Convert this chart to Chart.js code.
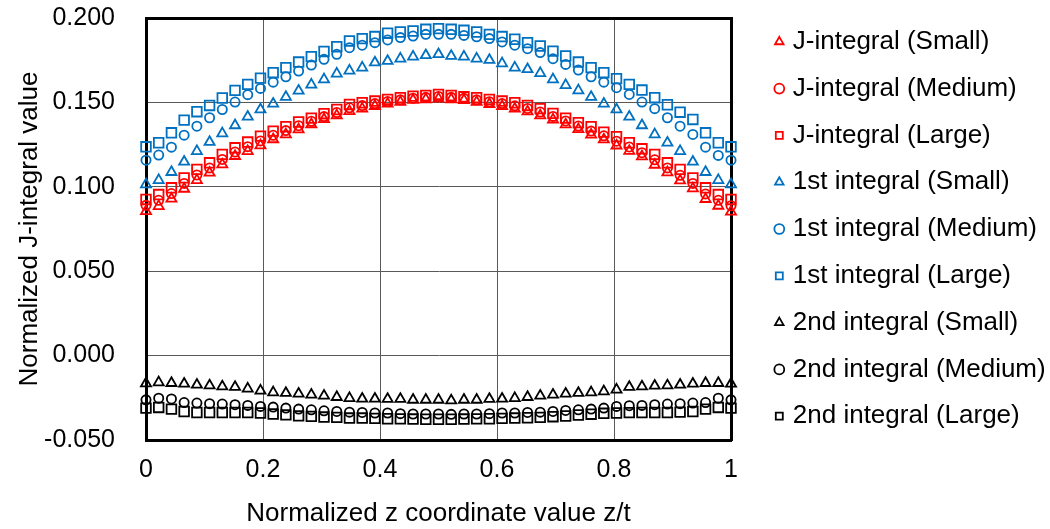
<!DOCTYPE html>
<html>
<head>
<meta charset="utf-8">
<script src="https://cdn.jsdelivr.net/npm/chart.js@4.4.0/dist/chart.umd.min.js"></script>
<style>
  html, body { margin: 0; padding: 0; background: #fff; }
</style>
</head>
<body>
<canvas id="grafico" width="1050" height="529"></canvas>
<script>
// posiciones z/t (47 nodos)
const zValues = [0, 0.0217, 0.0435, 0.0652, 0.0870, 0.1087, 0.1304, 0.1522, 0.1739, 0.1957, 0.2174, 0.2391,
  0.2609, 0.2826, 0.3043, 0.3261, 0.3478, 0.3696, 0.3913, 0.4130, 0.4348, 0.4565, 0.4783, 0.5,
  0.5217, 0.5435, 0.5652, 0.5870, 0.6087, 0.6304, 0.6522, 0.6739, 0.6957, 0.7174, 0.7391, 0.7609,
  0.7826, 0.8043, 0.8261, 0.8478, 0.8696, 0.8913, 0.9130, 0.9348, 0.9565, 0.9783, 1];

const jSmall = [0.0855, 0.0885, 0.0929, 0.0988, 0.1039, 0.1083, 0.1132, 0.1182, 0.1211, 0.1245, 0.1281, 0.1310,
  0.1340, 0.1370, 0.1400, 0.1423, 0.1448, 0.1463, 0.1478, 0.1492, 0.1502, 0.1514, 0.1518, 0.1522,
  0.1518, 0.1513, 0.1502, 0.1490, 0.1477, 0.1462, 0.1446, 0.1422, 0.1398, 0.1369, 0.1341, 0.1309,
  0.1280, 0.1244, 0.1212, 0.1180, 0.1130, 0.1085, 0.1037, 0.0990, 0.0927, 0.0887, 0.0852];
const jMedium = [0.0890, 0.0920, 0.0960, 0.1020, 0.1070, 0.1112, 0.1162, 0.1206, 0.1238, 0.1272, 0.1305, 0.1333,
  0.1362, 0.1388, 0.1416, 0.1440, 0.1468, 0.1481, 0.1493, 0.1505, 0.1515, 0.1525, 0.1530, 0.1535,
  0.1530, 0.1524, 0.1515, 0.1504, 0.1493, 0.1480, 0.1464, 0.1443, 0.1417, 0.1390, 0.1360, 0.1330,
  0.1302, 0.1270, 0.1236, 0.1202, 0.1160, 0.1112, 0.1068, 0.1020, 0.0958, 0.0920, 0.0888];
const jLarge = [0.0925, 0.0954, 0.0994, 0.1053, 0.1103, 0.1142, 0.1192, 0.1231, 0.1265, 0.1300, 0.1330, 0.1356,
  0.1384, 0.1407, 0.1433, 0.1458, 0.1488, 0.1498, 0.1508, 0.1518, 0.1528, 0.1537, 0.1541, 0.1547,
  0.1541, 0.1533, 0.1528, 0.1518, 0.1508, 0.1498, 0.1482, 0.1463, 0.1435, 0.1407, 0.1380, 0.1356,
  0.1324, 0.1297, 0.1261, 0.1225, 0.1192, 0.1142, 0.1103, 0.1053, 0.0994, 0.0954, 0.0925];

const firstSmall = [0.1014, 0.1039, 0.1087, 0.1148, 0.1211, 0.1265, 0.1316, 0.1364, 0.1415, 0.1458, 0.1492, 0.1532,
  0.1569, 0.1605, 0.1636, 0.1670, 0.1688, 0.1706, 0.1736, 0.1745, 0.1759, 0.1771, 0.1779, 0.1785,
  0.1775, 0.1771, 0.1759, 0.1751, 0.1731, 0.1706, 0.1696, 0.1673, 0.1636, 0.1602, 0.1571, 0.1532,
  0.1492, 0.1458, 0.1415, 0.1364, 0.1310, 0.1261, 0.1211, 0.1148, 0.1087, 0.1039, 0.1014];
const firstMedium = [0.1158, 0.1188, 0.1235, 0.1306, 0.1359, 0.1409, 0.1458, 0.1502, 0.1546, 0.1583, 0.1620, 0.1652,
  0.1686, 0.1721, 0.1755, 0.1785, 0.1824, 0.1839, 0.1854, 0.1870, 0.1884, 0.1893, 0.1903, 0.1903,
  0.1903, 0.1897, 0.1889, 0.1878, 0.1858, 0.1839, 0.1818, 0.1795, 0.1759, 0.1725, 0.1692, 0.1652,
  0.1620, 0.1587, 0.1547, 0.1502, 0.1463, 0.1409, 0.1359, 0.1310, 0.1235, 0.1186, 0.1158];
const firstLarge = [0.1237, 0.1261, 0.1320, 0.1395, 0.1445, 0.1482, 0.1526, 0.1571, 0.1607, 0.1644, 0.1676, 0.1706,
  0.1739, 0.1771, 0.1802, 0.1830, 0.1864, 0.1878, 0.1890, 0.1910, 0.1917, 0.1923, 0.1933, 0.1937,
  0.1933, 0.1927, 0.1917, 0.1903, 0.1890, 0.1874, 0.1854, 0.1834, 0.1804, 0.1775, 0.1739, 0.1706,
  0.1676, 0.1641, 0.1607, 0.1573, 0.1528, 0.1486, 0.1442, 0.1399, 0.1320, 0.1261, 0.1237];

const secondSmall = [-0.0165, -0.0159, -0.0163, -0.0167, -0.0173, -0.0177, -0.0183, -0.0186, -0.0196, -0.0208, -0.0218, -0.0222,
  -0.0226, -0.0232, -0.0238, -0.0246, -0.0252, -0.0256, -0.0256, -0.0257, -0.0257, -0.0262, -0.0262, -0.0262,
  -0.0266, -0.0262, -0.0262, -0.0257, -0.0256, -0.0252, -0.0246, -0.0238, -0.0232, -0.0226, -0.0222, -0.0218,
  -0.0212, -0.0202, -0.0186, -0.0183, -0.0179, -0.0177, -0.0173, -0.0167, -0.0163, -0.0163, -0.0167];
const secondMedium = [-0.0262, -0.0252, -0.0257, -0.0278, -0.0281, -0.0285, -0.0287, -0.0291, -0.0295, -0.0301, -0.0305, -0.0311,
  -0.0317, -0.0321, -0.0327, -0.0331, -0.0335, -0.0337, -0.0340, -0.0340, -0.0344, -0.0346, -0.0346, -0.0346,
  -0.0348, -0.0346, -0.0346, -0.0344, -0.0340, -0.0340, -0.0337, -0.0335, -0.0331, -0.0325, -0.0321, -0.0317,
  -0.0311, -0.0301, -0.0297, -0.0295, -0.0291, -0.0287, -0.0285, -0.0281, -0.0278, -0.0252, -0.0262];
const secondLarge = [-0.0311, -0.0307, -0.0317, -0.0331, -0.0337, -0.0337, -0.0337, -0.0337, -0.0337, -0.0340, -0.0346, -0.0351,
  -0.0357, -0.0360, -0.0364, -0.0366, -0.0370, -0.0370, -0.0372, -0.0374, -0.0375, -0.0376, -0.0377, -0.0377,
  -0.0377, -0.0376, -0.0375, -0.0374, -0.0372, -0.0370, -0.0368, -0.0366, -0.0362, -0.0358, -0.0352, -0.0347,
  -0.0342, -0.0340, -0.0338, -0.0337, -0.0337, -0.0337, -0.0335, -0.0331, -0.0317, -0.0307, -0.0311];

const seriesNames = ['J-integral (Small)', 'J-integral (Medium)', 'J-integral (Large)',
  '1st integral (Small)', '1st integral (Medium)', '1st integral (Large)',
  '2nd integral (Small)', '2nd integral (Medium)', '2nd integral (Large)'];
const xTickLabels = ['0', '0.2', '0.4', '0.6', '0.8', '1'];
const yTickLabels = ['-0.050', '0.000', '0.050', '0.100', '0.150', '0.200'];

const fuente = "Arial, 'Liberation Sans', sans-serif";
const rojo = '#FF0000';
const azul = '#0070C0';
const negro = '#000000';

// radio por tipo de marcador para que se vean del mismo tamaño
const estilos = {
  triangle: 5.8,
  circle: 4.6,
  rect: 6.8
};

function serie(nombre, valores, color, forma) {
  return {
    label: nombre,
    data: valores.map((v, i) => ({ x: zValues[i], y: v })),
    pointStyle: forma,
    pointRadius: estilos[forma],
    pointHoverRadius: estilos[forma],
    pointBorderWidth: 1.8,
    borderColor: color,
    pointBorderColor: color,
    backgroundColor: 'rgba(0,0,0,0)',
    pointBackgroundColor: 'rgba(0,0,0,0)',
    showLine: false,
    clip: false
  };
}

const datasets = [
  serie(seriesNames[0], jSmall, rojo, 'triangle'),
  serie(seriesNames[1], jMedium, rojo, 'circle'),
  serie(seriesNames[2], jLarge, rojo, 'rect'),
  serie(seriesNames[3], firstSmall, azul, 'triangle'),
  serie(seriesNames[4], firstMedium, azul, 'circle'),
  serie(seriesNames[5], firstLarge, azul, 'rect'),
  serie(seriesNames[6], secondSmall, negro, 'triangle'),
  serie(seriesNames[7], secondMedium, negro, 'circle'),
  serie(seriesNames[8], secondLarge, negro, 'rect')
];

const borde = { display: true, width: 3, color: '#000' };

const ctx = document.getElementById('grafico').getContext('2d');
new Chart(ctx, {
  type: 'scatter',
  data: { datasets: datasets },
  options: {
    responsive: false,
    animation: false,
    layout: { padding: { top: 8, right: 0, bottom: 0, left: 0 } },
    plugins: {
      tooltip: { enabled: false },
      legend: {
        position: 'right',
        align: 'start',
        maxWidth: 292,
        labels: {
          usePointStyle: true,
          boxWidth: 1,
          boxHeight: 7,
          padding: 20.8,
          color: '#000',
          font: { family: fuente, size: 26 }
        }
      }
    },
    scales: {
      x: {
        type: 'linear',
        position: 'bottom',
        min: 0,
        max: 1,
        grid: { color: '#595959', lineWidth: 1, drawTicks: true, tickLength: 15, tickColor: 'rgba(0,0,0,0)' },
        border: borde,
        ticks: {
          stepSize: 0.2,
          padding: 0,
          color: '#000',
          font: { family: fuente, size: 25 },
          callback: (v, i) => xTickLabels[i]
        },
        title: {
          display: true,
          text: 'Normalized z coordinate value z/t',
          color: '#000',
          font: { family: fuente, size: 26 },
          padding: { top: 0, bottom: 0 }
        },
        afterFit: s => { s.height = 89; }
      },
      y: {
        type: 'linear',
        position: 'left',
        min: -0.05,
        max: 0.2,
        grid: { color: '#595959', lineWidth: 1, drawTicks: true, tickLength: 31, tickColor: 'rgba(0,0,0,0)' },
        border: borde,
        ticks: {
          stepSize: 0.05,
          padding: 0,
          color: '#000',
          font: { family: fuente, size: 25 },
          callback: (v, i) => yTickLabels[i]
        },
        title: {
          display: true,
          text: 'Normalized J-integral value',
          color: '#000',
          font: { family: fuente, size: 26 },
          padding: { top: 14, bottom: 0 }
        },
        afterFit: s => { s.width = 146; }
      },
      // ejes vacios solo para el marco de arriba y derecha
      x2: {
        type: 'linear',
        position: 'top',
        grid: { drawOnChartArea: false, drawTicks: false },
        border: borde,
        ticks: { display: false },
        afterFit: s => { s.height = 10; }
      },
      y2: {
        type: 'linear',
        position: 'right',
        grid: { drawOnChartArea: false, drawTicks: false },
        border: borde,
        ticks: { display: false },
        afterFit: s => { s.width = 27; }
      }
    }
  }
});
</script>
</body>
</html>
